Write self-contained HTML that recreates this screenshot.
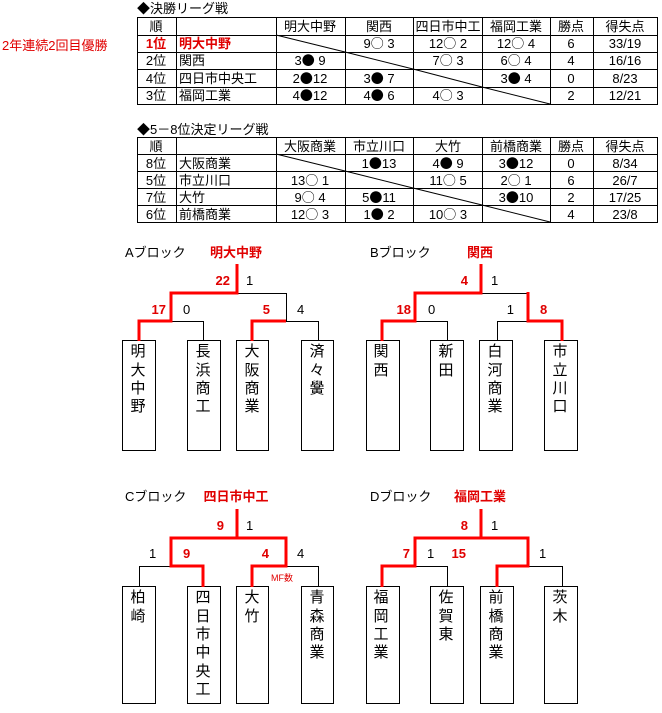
<!DOCTYPE html>
<html><head><meta charset="utf-8"><style>
html,body{margin:0;padding:0;background:#fff;}
svg{display:block;}
text{font-family:"Liberation Sans","Noto Sans CJK JP",sans-serif;font-size:13px;fill:#000;}
tspan.k{font-family:"Noto Sans CJK JP",sans-serif;font-size:13px;}
.r{fill:#e00000;}
.b{font-weight:bold;}
.c{text-anchor:middle;}
.e{text-anchor:end;}
.v{font-size:15px;text-anchor:middle;}
</style></head><body>
<svg width="662" height="713" viewBox="0 0 662 713" xmlns="http://www.w3.org/2000/svg" xml:space="preserve">
<rect width="662" height="713" fill="#fff"/>
<text x="2" y="50" class="r">2年連続2回目優勝</text>

<!-- Table 1 -->
<text x="137" y="13">◆決勝リーグ戦</text>
<g stroke="#000" stroke-width="1" fill="none">
<rect x="137.5" y="17.5" width="520" height="87"/>
<line x1="137" y1="35.5" x2="658" y2="35.5"/><line x1="137" y1="52.5" x2="658" y2="52.5"/><line x1="137" y1="69.5" x2="658" y2="69.5"/><line x1="137" y1="87.5" x2="658" y2="87.5"/>
<line x1="176.5" y1="17" x2="176.5" y2="105"/><line x1="276.5" y1="17" x2="276.5" y2="105"/><line x1="345.5" y1="17" x2="345.5" y2="105"/><line x1="413.5" y1="17" x2="413.5" y2="105"/><line x1="482.5" y1="17" x2="482.5" y2="105"/><line x1="550.5" y1="17" x2="550.5" y2="105"/><line x1="593.5" y1="17" x2="593.5" y2="105"/>
<line x1="276" y1="35" x2="345" y2="52"/><line x1="345" y1="52" x2="413" y2="69"/><line x1="413" y1="69" x2="482" y2="87"/><line x1="482" y1="87" x2="550" y2="104"/>
</g>
<g>
<text x="156" y="31" class="c">順</text><text x="310" y="31" class="c">明大中野</text><text x="379" y="31" class="c">関西</text><text x="448" y="31" class="c">四日市中工</text><text x="516" y="31" class="c">福岡工業</text><text x="571" y="31" class="c">勝点</text><text x="625" y="31" class="c">得失点</text>
<text x="156" y="48" class="c r b">1位</text><text x="179" y="48" class="r b">明大中野</text><text x="379" y="48" class="c">9<tspan class="k">○</tspan> 3</text><text x="448" y="48" class="c">12<tspan class="k">○</tspan> 2</text><text x="516" y="48" class="c">12<tspan class="k">○</tspan> 4</text><text x="571" y="48" class="c">6</text><text x="625" y="48" class="c">33/19</text>
<text x="156" y="65" class="c">2位</text><text x="179" y="65">関西</text><text x="310" y="65" class="c">3<tspan class="k">●</tspan> 9</text><text x="448" y="65" class="c">7<tspan class="k">○</tspan> 3</text><text x="516" y="65" class="c">6<tspan class="k">○</tspan> 4</text><text x="571" y="65" class="c">4</text><text x="625" y="65" class="c">16/16</text>
<text x="156" y="83" class="c">4位</text><text x="179" y="83">四日市中央工</text><text x="310" y="83" class="c">2<tspan class="k">●</tspan>12</text><text x="379" y="83" class="c">3<tspan class="k">●</tspan> 7</text><text x="516" y="83" class="c">3<tspan class="k">●</tspan> 4</text><text x="571" y="83" class="c">0</text><text x="625" y="83" class="c">8/23</text>
<text x="156" y="100" class="c">3位</text><text x="179" y="100">福岡工業</text><text x="310" y="100" class="c">4<tspan class="k">●</tspan>12</text><text x="379" y="100" class="c">4<tspan class="k">●</tspan> 6</text><text x="448" y="100" class="c">4<tspan class="k">○</tspan> 3</text><text x="571" y="100" class="c">2</text><text x="625" y="100" class="c">12/21</text>
</g>

<!-- Table 2 -->
<text x="137" y="134">◆5－8位決定リーグ戦</text>
<g stroke="#000" stroke-width="1" fill="none">
<rect x="137.5" y="137.5" width="520" height="85"/>
<line x1="137" y1="154.5" x2="658" y2="154.5"/><line x1="137" y1="171.5" x2="658" y2="171.5"/><line x1="137" y1="188.5" x2="658" y2="188.5"/><line x1="137" y1="205.5" x2="658" y2="205.5"/>
<line x1="176.5" y1="137" x2="176.5" y2="223"/><line x1="276.5" y1="137" x2="276.5" y2="223"/><line x1="345.5" y1="137" x2="345.5" y2="223"/><line x1="413.5" y1="137" x2="413.5" y2="223"/><line x1="482.5" y1="137" x2="482.5" y2="223"/><line x1="550.5" y1="137" x2="550.5" y2="223"/><line x1="593.5" y1="137" x2="593.5" y2="223"/>
<line x1="276" y1="154" x2="345" y2="171"/><line x1="345" y1="171" x2="413" y2="188"/><line x1="413" y1="188" x2="482" y2="205"/><line x1="482" y1="205" x2="550" y2="222"/>
</g>
<g>
<text x="156" y="151" class="c">順</text><text x="310" y="151" class="c">大阪商業</text><text x="379" y="151" class="c">市立川口</text><text x="448" y="151" class="c">大竹</text><text x="516" y="151" class="c">前橋商業</text><text x="571" y="151" class="c">勝点</text><text x="625" y="151" class="c">得失点</text>
<text x="156" y="168" class="c">8位</text><text x="179" y="168">大阪商業</text><text x="379" y="168" class="c">1<tspan class="k">●</tspan>13</text><text x="448" y="168" class="c">4<tspan class="k">●</tspan> 9</text><text x="516" y="168" class="c">3<tspan class="k">●</tspan>12</text><text x="571" y="168" class="c">0</text><text x="625" y="168" class="c">8/34</text>
<text x="156" y="185" class="c">5位</text><text x="179" y="185">市立川口</text><text x="310" y="185" class="c">13<tspan class="k">○</tspan> 1</text><text x="448" y="185" class="c">11<tspan class="k">○</tspan> 5</text><text x="516" y="185" class="c">2<tspan class="k">○</tspan> 1</text><text x="571" y="185" class="c">6</text><text x="625" y="185" class="c">26/7</text>
<text x="156" y="202" class="c">7位</text><text x="179" y="202">大竹</text><text x="310" y="202" class="c">9<tspan class="k">○</tspan> 4</text><text x="379" y="202" class="c">5<tspan class="k">●</tspan>11</text><text x="516" y="202" class="c">3<tspan class="k">●</tspan>10</text><text x="571" y="202" class="c">2</text><text x="625" y="202" class="c">17/25</text>
<text x="156" y="219" class="c">6位</text><text x="179" y="219">前橋商業</text><text x="310" y="219" class="c">12<tspan class="k">○</tspan> 3</text><text x="379" y="219" class="c">1<tspan class="k">●</tspan> 2</text><text x="448" y="219" class="c">10<tspan class="k">○</tspan> 3</text><text x="571" y="219" class="c">4</text><text x="625" y="219" class="c">23/8</text>
</g>

<!-- Boxes -->
<g stroke="#000" stroke-width="1" fill="none">
<rect x="122.5" y="340.5" width="33" height="110"/><rect x="187.5" y="340.5" width="33" height="110"/><rect x="236.5" y="340.5" width="32" height="110"/><rect x="301.5" y="340.5" width="32" height="110"/>
<rect x="366.5" y="340.5" width="33" height="110"/><rect x="430.5" y="340.5" width="33" height="110"/><rect x="479.5" y="340.5" width="33" height="110"/><rect x="544.5" y="340.5" width="33" height="110"/>
<rect x="122.5" y="586.5" width="33" height="117"/><rect x="187.5" y="586.5" width="33" height="117"/><rect x="236.5" y="586.5" width="32" height="117"/><rect x="301.5" y="586.5" width="32" height="117"/>
<rect x="366.5" y="586.5" width="33" height="117"/><rect x="430.5" y="586.5" width="33" height="117"/><rect x="480.5" y="586.5" width="33" height="117"/><rect x="544.5" y="586.5" width="33" height="117"/>
<polyline points="237,293.5 286.5,293.5 286.5,321"/>
<polyline points="171,321.5 203.5,321.5 203.5,340"/>
<polyline points="286,321.5 318.5,321.5 318.5,340"/>
<polyline points="481,293.5 528,293.5"/>
<polyline points="415,321.5 447.5,321.5 447.5,340"/>
<polyline points="528,321.5 497.5,321.5 497.5,340"/>
<polyline points="171,566.5 139.5,566.5 139.5,586"/>
<polyline points="286,566.5 318.5,566.5 318.5,586"/>
<polyline points="481,538.5 528,538.5"/>
<polyline points="415,566.5 447.5,566.5 447.5,586"/>
<polyline points="528,566.5 562.5,566.5 562.5,586"/>
</g>
<g stroke="#f00" stroke-width="3" fill="none">
<polyline points="237,264 237,293 171,293 171,321 139,321 139,341"/>
<polyline points="286,321 252,321 252,341"/>
<polyline points="481,264 481,293 415,293 415,321 382,321 382,341"/>
<polyline points="528,292 528,321 562,321 562,341"/>
<polyline points="237,509 237,538 171,538 171,566 203,566 203,587"/>
<polyline points="237,538 286,538 286,566 252,566 252,587"/>
<polyline points="481,509 481,538 415,538 415,566 382,566 382,587"/>
<polyline points="481,538 528,538 528,566 497,566 497,587"/>
</g>

<text x="125" y="257">Aブロック</text><text x="236" y="257" class="c r b">明大中野</text>
<text x="370" y="257">Bブロック</text><text x="480" y="257" class="c r b">関西</text>
<text x="125" y="501">Cブロック</text><text x="236" y="501" class="c r b">四日市中工</text>
<text x="370" y="501">Dブロック</text><text x="480" y="501" class="c r b">福岡工業</text>

<g>
<text x="230" y="285" class="e r b">22</text><text x="246" y="285">1</text>
<text x="166" y="314" class="e r b">17</text><text x="183" y="314">0</text>
<text x="270" y="314" class="e r b">5</text><text x="297" y="314">4</text>
<text x="468" y="285" class="e r b">4</text><text x="491" y="285">1</text>
<text x="411" y="314" class="e r b">18</text><text x="428" y="314">0</text>
<text x="514" y="314" class="e">1</text><text x="540" y="314" class="r b">8</text>
<text x="224" y="530" class="e r b">9</text><text x="246" y="530">1</text>
<text x="149" y="558">1</text><text x="183" y="558" class="r b">9</text>
<text x="269" y="558" class="e r b">4</text><text x="297" y="558">4</text>
<text x="271" y="581" class="r" style="font-size:9px">MF数</text>
<text x="468" y="530" class="e r b">8</text><text x="491" y="530">1</text>
<text x="410" y="558" class="e r b">7</text><text x="427" y="558">1</text>
<text x="466" y="558" class="e r b">15</text><text x="539" y="558">1</text>
</g>

<g>
<text x="138" y="356" class="v">明</text><text x="138" y="375" class="v">大</text><text x="138" y="393" class="v">中</text><text x="138" y="411" class="v">野</text>
<text x="203" y="356" class="v">長</text><text x="203" y="375" class="v">浜</text><text x="203" y="393" class="v">商</text><text x="203" y="411" class="v">工</text>
<text x="252" y="356" class="v">大</text><text x="252" y="375" class="v">阪</text><text x="252" y="393" class="v">商</text><text x="252" y="411" class="v">業</text>
<text x="317" y="356" class="v">済</text><text x="317" y="375" class="v">々</text><text x="317" y="393" class="v">黌</text>
<text x="381" y="356" class="v">関</text><text x="381" y="375" class="v">西</text>
<text x="446" y="356" class="v">新</text><text x="446" y="375" class="v">田</text>
<text x="495" y="356" class="v">白</text><text x="495" y="375" class="v">河</text><text x="495" y="393" class="v">商</text><text x="495" y="411" class="v">業</text>
<text x="560" y="356" class="v">市</text><text x="560" y="375" class="v">立</text><text x="560" y="393" class="v">川</text><text x="560" y="411" class="v">口</text>
<text x="138" y="602" class="v">柏</text><text x="138" y="621" class="v">崎</text>
<text x="203" y="602" class="v">四</text><text x="203" y="621" class="v">日</text><text x="203" y="639" class="v">市</text><text x="203" y="657" class="v">中</text><text x="203" y="676" class="v">央</text><text x="203" y="694" class="v">工</text>
<text x="252" y="602" class="v">大</text><text x="252" y="621" class="v">竹</text>
<text x="317" y="602" class="v">青</text><text x="317" y="621" class="v">森</text><text x="317" y="639" class="v">商</text><text x="317" y="657" class="v">業</text>
<text x="381" y="602" class="v">福</text><text x="381" y="621" class="v">岡</text><text x="381" y="639" class="v">工</text><text x="381" y="657" class="v">業</text>
<text x="446" y="602" class="v">佐</text><text x="446" y="621" class="v">賀</text><text x="446" y="639" class="v">東</text>
<text x="496" y="602" class="v">前</text><text x="496" y="621" class="v">橋</text><text x="496" y="639" class="v">商</text><text x="496" y="657" class="v">業</text>
<text x="560" y="602" class="v">茨</text><text x="560" y="621" class="v">木</text>
</g>
</svg>
</body></html>
